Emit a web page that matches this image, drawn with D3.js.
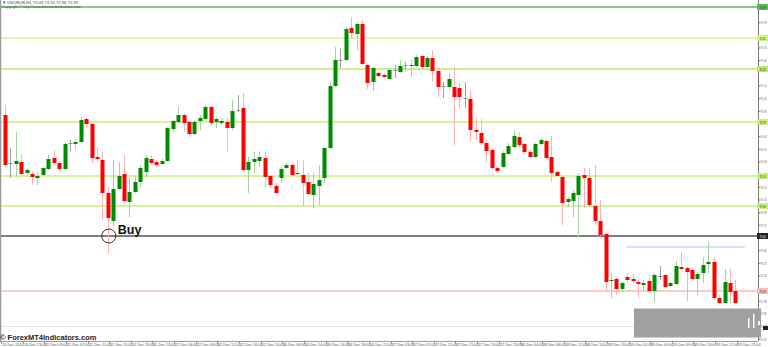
<!DOCTYPE html>
<html><head><meta charset="utf-8">
<script src="https://cdn.jsdelivr.net/npm/d3@7"></script>
<style>html,body{margin:0;padding:0;background:#fff;overflow:hidden}</style>
</head><body>
<svg id="c" width="768" height="347"></svg>
<script>
const symbol = "USDRUB,H1";
const openP = [74.85,74.37,74.36,74.38,74.27,74.26,74.22,74.25,74.31,74.42,74.37,74.31,74.57,74.56,74.58,74.81,74.76,74.43,74.40,74.07,
73.79,74.11,74.26,73.98,74.08,74.18,74.28,74.41,74.38,74.36,74.39,74.71,74.78,74.85,74.78,74.66,74.79,74.81,74.93,74.78,
74.77,74.78,74.72,74.90,74.92,74.30,74.38,74.39,74.42,74.24,74.14,74.22,74.32,74.35,74.27,74.25,74.18,74.05,74.14,74.22,
74.52,75.14,75.40,75.40,75.72,75.66,75.76,75.35,75.18,75.27,75.25,75.21,75.30,75.28,75.35,75.34,75.34,75.44,75.33,75.42,
75.29,75.14,75.13,75.13,75.12,75.02,75.01,74.70,74.67,74.57,74.50,74.32,74.33,74.46,74.53,74.63,74.56,74.48,74.43,74.56,
74.59,74.43,74.28,74.23,73.98,73.99,74.05,74.25,74.22,73.94,73.79,73.66,73.19,73.21,73.11,73.23,73.21,73.18,73.15,73.19,
73.09,73.24,73.25,73.14,73.16,73.33,73.32,73.30,73.21,73.27,73.36,73.38,73.02,72.97,73.17,73.09];
const highP = [74.95,74.52,74.68,74.46,74.32,74.28,74.28,74.33,74.45,74.50,74.39,74.57,74.60,74.60,74.83,74.82,74.77,74.52,74.48,74.13,
74.40,74.38,74.45,74.22,74.25,74.35,74.45,74.45,74.40,74.41,74.73,74.80,74.93,74.87,74.79,74.80,74.85,74.95,74.95,74.83,
74.82,74.82,75.00,75.05,75.07,74.43,74.48,74.48,74.48,74.25,74.17,74.33,74.37,74.37,74.40,74.40,74.27,74.27,74.35,74.53,
75.18,75.53,75.52,75.73,75.83,75.78,75.80,75.37,75.33,75.28,75.27,75.32,75.35,75.40,75.38,75.40,75.45,75.45,75.44,75.50,
75.33,75.18,75.27,75.33,75.17,75.18,75.10,74.82,74.81,74.60,74.52,74.33,74.49,74.57,74.70,74.68,74.57,74.50,74.57,74.62,
74.61,74.64,74.30,74.25,74.03,74.10,74.27,74.32,74.32,74.35,74.00,73.67,73.26,73.22,73.18,73.27,73.26,73.20,73.20,73.22,
73.27,73.34,73.26,73.18,73.39,73.48,73.33,73.32,73.28,73.43,73.58,73.43,73.05,73.31,73.31,73.20];
const lowP = [74.34,74.22,74.23,74.25,74.25,74.15,74.15,74.24,74.30,74.35,74.30,74.30,74.49,74.50,74.57,74.73,74.37,74.38,73.80,73.47,
73.73,74.10,73.98,73.83,74.07,74.12,74.22,74.35,74.33,74.35,74.38,74.68,74.77,74.68,74.63,74.65,74.70,74.80,74.75,74.72,
74.75,74.48,74.70,74.88,74.28,74.07,74.27,74.33,74.13,74.13,74.06,74.17,74.31,74.24,74.25,73.93,74.05,73.92,73.95,74.17,
74.51,75.13,75.32,75.39,75.62,75.50,75.35,75.11,75.09,75.23,75.22,75.20,75.22,75.27,75.30,75.23,75.33,75.32,75.32,75.18,
75.03,75.02,75.10,74.55,74.92,74.92,74.59,74.60,74.55,74.38,74.31,74.27,74.32,74.45,74.52,74.53,74.47,74.42,74.42,74.55,
74.41,74.18,74.23,73.75,73.93,73.83,73.63,73.92,73.93,73.75,73.64,73.09,73.02,73.05,73.08,73.18,73.17,73.02,73.09,73.08,
72.98,73.20,73.12,73.13,73.15,73.30,72.99,73.20,73.05,73.17,73.27,73.00,72.96,72.96,72.97,72.96];
const closeP = [74.35,74.37,74.39,74.26,74.30,74.23,74.24,74.32,74.41,74.37,74.31,74.56,74.57,74.58,74.80,74.76,74.42,74.41,74.07,73.82,
74.11,74.24,73.99,74.08,74.18,74.32,74.42,74.37,74.35,74.39,74.72,74.79,74.85,74.77,74.66,74.78,74.82,74.93,74.77,74.81,
74.79,74.72,74.89,74.90,74.30,74.38,74.41,74.43,74.23,74.15,74.07,74.31,74.35,74.25,74.26,74.17,74.06,74.16,74.20,74.52,
75.14,75.40,75.40,75.71,75.67,75.76,75.36,75.17,75.32,75.24,75.23,75.30,75.30,75.34,75.35,75.35,75.43,75.33,75.42,75.29,
75.13,75.14,75.21,75.03,75.03,75.02,74.70,74.68,74.57,74.49,74.32,74.29,74.47,74.54,74.64,74.55,74.48,74.43,74.56,74.60,
74.42,74.27,74.24,73.97,74.01,74.07,74.24,74.22,73.95,73.79,73.65,73.18,73.20,73.11,73.17,73.20,73.19,73.16,73.17,73.09,
73.25,73.24,73.13,73.17,73.34,73.31,73.28,73.21,73.26,73.35,73.38,73.02,72.97,73.18,73.08,72.97];

const greenLevels = [75.93, 75.62, 75.31, 74.78, 74.24, 73.94];
const greenColors = ["#5cb85c", "#cff58a", "#b8ea6c", "#c6f07a", "#c6f07a", "#c6f07a"];
const buyLevel = 73.64;
const redLevel = 73.09;
const blueLevel = 73.53;
const blueRange = [114.8, 136.8];
const buyIndex = 19;
const buyText = "Buy";
const priceTicks = [75.905,75.778,75.652,75.525,75.398,75.272,75.145,75.018,74.892,74.765,74.638,74.512,74.385,74.258,74.132,74.005,73.878,73.752,73.625,73.498,73.372,73.245,73.118,72.992,72.865,72.738,72.612];
const timeLabels = ["20 Dec 2020","20 Dec 23:00","21 Dec 03:00","21 Dec 07:00","21 Dec 11:00","21 Dec 15:00","21 Dec 19:00","21 Dec 23:00",
"22 Dec 04:00","22 Dec 08:00","22 Dec 12:00","22 Dec 16:00","22 Dec 20:00","26 Dec 06:00","26 Dec 10:00","26 Dec 14:00","26 Dec 18:00",
"26 Dec 22:00","27 Dec 03:00","27 Dec 07:00","27 Dec 11:00","27 Dec 15:00","27 Dec 19:00","27 Dec 23:00","28 Dec 04:00","28 Dec 08:00",
"28 Dec 12:00","28 Dec 16:00","28 Dec 20:00","29 Dec 01:00","29 Dec 05:00","29 Dec 09:00","29 Dec 13:00","29 Dec 17:00","29 Dec 21:00"];
const watermark = "\u00a9 ForexMT4Indicators.com";
const copyright = "Copyright \u00a9 http://www.forexmt4indicators.com";

const n = openP.length;
const svg = d3.select("#c");
const axisX = 758, bottomY = 341;
const x = d3.scaleLinear().domain([0, 135]).range([5, 735.35]);
const y = d3.scaleLinear().domain([76.0, 72.5]).range([0, 350]);
const font = "'Liberation Sans', Arial, sans-serif";

// faint separator
svg.append("line").attr("x1",0).attr("x2",634).attr("y1",326.5).attr("y2",326.5).attr("stroke","#e8e8e8");

// horizontal levels
greenLevels.forEach((v,i)=>{
  svg.append("line").attr("x1",0).attr("x2",axisX).attr("y1",y(v)).attr("y2",y(v))
    .attr("stroke",greenColors[i]).attr("stroke-width",1.5);
});
svg.append("line").attr("x1",0).attr("x2",axisX).attr("y1",y(buyLevel)).attr("y2",y(buyLevel)).attr("stroke","#555").attr("stroke-width",1.3);
svg.append("line").attr("x1",0).attr("x2",axisX).attr("y1",y(redLevel)).attr("y2",y(redLevel)).attr("stroke","#ffb8b8").attr("stroke-width",1.3);
svg.append("line").attr("x1",x(blueRange[0])).attr("x2",x(blueRange[1])).attr("y1",y(blueLevel)).attr("y2",y(blueLevel)).attr("stroke","#a9c9f0").attr("stroke-width",1);

// candles
const g = svg.append("g");
for (let i=0;i<n;i++){
  const o=openP[i], h=highP[i], l=lowP[i], c=closeP[i];
  const cx = Math.round(x(i));
  const up = c>o, doji = Math.abs(c-o)<0.005;
  const wickCol = doji ? "#a0a0a0" : (up ? "#a3d3a3" : "#ffb0b0");
  const bodyCol = doji ? "#909090" : (up ? "#008a00" : "#ff0000");
  g.append("line").attr("x1",cx+0.5).attr("x2",cx+0.5).attr("y1",y(h)).attr("y2",y(l)).attr("stroke",wickCol).attr("stroke-width",1);
  const top = y(Math.max(o,c)), bot = y(Math.min(o,c));
  g.append("rect").attr("x",cx-1.5).attr("width",4).attr("y",top).attr("height",Math.max(1,bot-top)).attr("fill",bodyCol);
}

// Buy marker
svg.append("circle").attr("cx",x(buyIndex)+1).attr("cy",y(buyLevel)).attr("r",7).attr("fill","none").attr("stroke","#333").attr("stroke-width",1);
svg.append("text").attr("x",x(buyIndex)+10).attr("y",y(buyLevel)-2.5).text(buyText)
  .attr("font-family",font).attr("font-weight","bold").attr("font-size",12.5).attr("fill","#111");

// borders
svg.append("line").attr("x1",0.5).attr("x2",0.5).attr("y1",0).attr("y2",bottomY).attr("stroke","#9a9a9a").attr("stroke-width",1.5);
svg.append("line").attr("x1",axisX+0.5).attr("x2",axisX+0.5).attr("y1",0).attr("y2",bottomY).attr("stroke","#777");
svg.append("line").attr("x1",0).attr("x2",axisX).attr("y1",bottomY+0.5).attr("y2",bottomY+0.5).attr("stroke","#999");

// price axis (labels hidden where a level label box sits)
const levelAll = [...greenLevels, buyLevel, redLevel];
const shownTicks = priceTicks.filter(t => levelAll.every(v => Math.abs(y(t)-y(v)) > 5));
const yAxis = d3.axisRight(y).tickValues(shownTicks).tickFormat(d3.format(".2f")).tickSize(2).tickPadding(0);
const ya = svg.append("g").attr("transform",`translate(${axisX+0.5},0)`).call(yAxis);
ya.select(".domain").remove();
ya.selectAll("line").attr("stroke","#777");
ya.selectAll("text").attr("font-family",font).attr("font-size",4).attr("fill","#666")
  .attr("x",0).attr("transform","translate(2,0) scale(0.62,1)");

// level labels on axis
const lab = [...greenLevels.map((v,i)=>({v,c:greenColors[i],t:"#333"})),{v:buyLevel,c:"#222",t:"#fff"},{v:redLevel,c:"#ffb8b8",t:"#333"}];
lab.forEach(d=>{
  svg.append("rect").attr("x",axisX-1).attr("y",y(d.v)-3).attr("width",11).attr("height",6).attr("fill",d.c);
  svg.append("text").attr("transform",`translate(${axisX+1.5},${y(d.v)+1.5}) scale(0.62,1)`).text(d.v.toFixed(2))
    .attr("font-family",font).attr("font-size",4).attr("fill",d.t);
});

// time axis
const tg = svg.append("g");
timeLabels.forEach((t,k)=>{
  const tx = Math.round(x(4*k)) - 4;
  tg.append("line").attr("x1",tx+0.5).attr("x2",tx+0.5).attr("y1",bottomY).attr("y2",bottomY+2.5).attr("stroke","#888");
  tg.append("text").attr("x",tx+1).attr("y",346).text(t).attr("font-family",font).attr("font-size",3.8).attr("fill","#555");
});

// title
const last = n-1;
svg.append("text").attr("x",2).attr("y",4).text("\u25BC " + symbol + "  " + [openP[last],highP[last],lowP[last],closeP[last]].map(v=>v.toFixed(2)).join(" "))
  .attr("font-family",font).attr("font-size",4.2).attr("fill","#444");
svg.append("text").attr("x",2).attr("y",8).text(copyright).attr("font-family",font).attr("font-size",3.8).attr("fill","#555");

// watermark
svg.append("text").attr("x",0).attr("y",339.5).text(watermark).attr("font-family",font).attr("font-weight","bold").attr("font-size",7.5).attr("fill","#222");

// gray box (overlay)
svg.append("rect").attr("x",634).attr("y",308.5).attr("width",127).attr("height",29).attr("fill","#a0a0a0");
svg.append("rect").attr("x",748).attr("y",318).attr("width",1.5).attr("height",10).attr("fill","#fff");
svg.append("rect").attr("x",753).attr("y",314).attr("width",1.5).attr("height",14).attr("fill","#fff");
svg.append("rect").attr("x",758).attr("y",321).attr("width",2).attr("height",4).attr("fill","#fff");
svg.append("rect").attr("x",763).attr("y",326).attr("width",5).attr("height",4).attr("fill","#222");
</script>
</body></html>
